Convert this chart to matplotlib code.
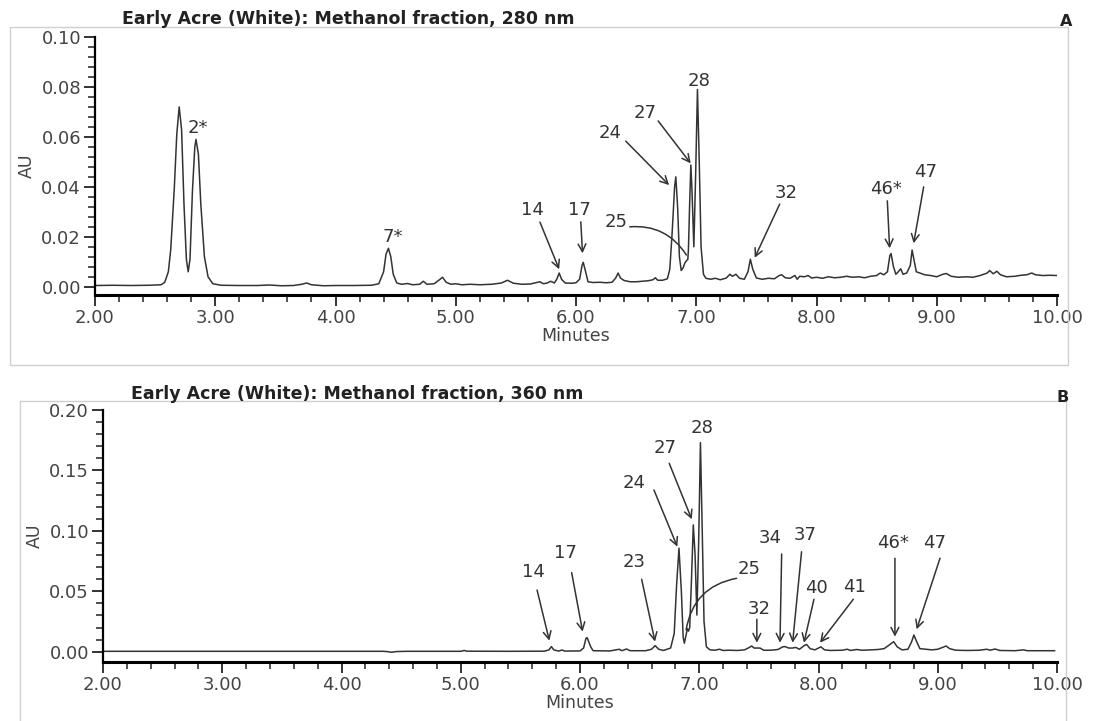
import matplotlib
matplotlib.use("Agg")
import matplotlib.pyplot as plt
from matplotlib.patches import Rectangle
from matplotlib.ticker import MultipleLocator, FormatStrFormatter

# 280 nm trace (minutes, AU)
top_t = [2.00, 2.15, 2.30, 2.45, 2.55, 2.58, 2.61, 2.63, 2.66, 2.68, 2.70, 2.72,
         2.74, 2.76, 2.775, 2.79, 2.81, 2.83, 2.84, 2.86, 2.88, 2.91, 2.94, 2.98,
         3.05, 3.20, 3.35, 3.45, 3.55, 3.65, 3.72, 3.76, 3.80, 3.90, 4.00, 4.15,
         4.30, 4.36, 4.40, 4.42, 4.44, 4.46, 4.48, 4.51, 4.55, 4.60, 4.64, 4.70,
         4.73, 4.76, 4.82, 4.87, 4.89, 4.92, 4.96, 5.00, 5.05, 5.12, 5.20, 5.30,
         5.38, 5.43, 5.48, 5.55, 5.62, 5.70, 5.73, 5.76, 5.79, 5.82, 5.84, 5.86,
         5.88, 5.91, 5.96, 6.00, 6.03, 6.05, 6.06, 6.08, 6.10, 6.14, 6.20, 6.25,
         6.30, 6.33, 6.35, 6.37, 6.40, 6.45, 6.50, 6.55, 6.60, 6.64, 6.66, 6.68,
         6.72, 6.76, 6.78, 6.80, 6.82, 6.83, 6.845, 6.86, 6.875, 6.89, 6.905, 6.92,
         6.93, 6.935, 6.945, 6.955, 6.965, 6.98, 6.995, 7.01, 7.025, 7.04, 7.06, 7.08,
         7.12, 7.16, 7.20, 7.25, 7.28, 7.30, 7.33, 7.36, 7.40, 7.43, 7.45, 7.47,
         7.50, 7.55, 7.60, 7.65, 7.69, 7.71, 7.74, 7.78, 7.82, 7.84, 7.86, 7.90,
         7.93, 7.96, 8.00, 8.05, 8.10, 8.15, 8.20, 8.25, 8.30, 8.35, 8.40, 8.45,
         8.50, 8.53, 8.56, 8.59, 8.61, 8.62, 8.64, 8.66, 8.68, 8.70, 8.72, 8.75,
         8.78, 8.795, 8.81, 8.83, 8.86, 8.90, 8.95, 9.00, 9.05, 9.08, 9.12, 9.18,
         9.25, 9.30, 9.36, 9.42, 9.44, 9.47, 9.50, 9.53, 9.58, 9.65, 9.70, 9.75,
         9.79, 9.82, 9.88, 9.94, 10.00]
top_au = [0.0005, 0.0006, 0.0005, 0.0006, 0.0008, 0.0018, 0.0060, 0.0150, 0.0400, 0.0610, 0.0720, 0.0630,
          0.0330, 0.0110, 0.0060, 0.0110, 0.0380, 0.0560, 0.0590, 0.0530, 0.0330, 0.0120, 0.0040, 0.0012,
          0.0006, 0.0005, 0.0005, 0.0007, 0.0004, 0.0005, 0.0010, 0.0015, 0.0008, 0.0004, 0.0005, 0.0005,
          0.0006, 0.0012, 0.0060, 0.0130, 0.0154, 0.0120, 0.0050, 0.0015, 0.0010, 0.0013, 0.0008, 0.0010,
          0.0022, 0.0010, 0.0012, 0.0030, 0.0038, 0.0018, 0.0010, 0.0012, 0.0008, 0.0010, 0.0008, 0.0010,
          0.0015, 0.0026, 0.0014, 0.0010, 0.0011, 0.0020, 0.0012, 0.0015, 0.0022, 0.0015, 0.0030, 0.0055,
          0.0030, 0.0015, 0.0014, 0.0016, 0.0030, 0.0085, 0.0098, 0.0060, 0.0020, 0.0017, 0.0018, 0.0016,
          0.0018, 0.0035, 0.0055, 0.0035, 0.0025, 0.0020, 0.0020, 0.0022, 0.0024, 0.0028, 0.0036, 0.0026,
          0.0026, 0.0032, 0.0070, 0.0220, 0.0400, 0.0440, 0.0320, 0.0120, 0.0065, 0.0075, 0.0095, 0.0105,
          0.0110, 0.0150, 0.0330, 0.0487, 0.0380, 0.0160, 0.0450, 0.0790, 0.0500, 0.0160, 0.0050, 0.0034,
          0.0030, 0.0034, 0.0028, 0.0035, 0.0050, 0.0042, 0.0050, 0.0034, 0.0030, 0.0060, 0.0110, 0.0070,
          0.0035, 0.0030, 0.0034, 0.0032, 0.0045, 0.0048, 0.0036, 0.0034, 0.0045, 0.0030, 0.0042, 0.0040,
          0.0045, 0.0035, 0.0038, 0.0034, 0.0040, 0.0036, 0.0038, 0.0042, 0.0038, 0.0040, 0.0036, 0.0042,
          0.0045, 0.0055, 0.0048, 0.0060, 0.0125, 0.0133, 0.0080, 0.0050, 0.0060, 0.0072, 0.0050, 0.0055,
          0.0085, 0.0147, 0.0110, 0.0060, 0.0055, 0.0048, 0.0045, 0.0040, 0.0050, 0.0053, 0.0042, 0.0038,
          0.0040, 0.0038, 0.0045, 0.0055, 0.0065, 0.0052, 0.0062, 0.0048, 0.0040, 0.0042, 0.0046, 0.0048,
          0.0055, 0.0048, 0.0045, 0.0046, 0.0045]

# 360 nm trace (minutes, AU)
bot_t = [2.00, 3.00, 4.00, 4.35, 4.38, 4.42, 4.46, 4.55, 5.00, 5.03, 5.05, 5.40,
         5.70, 5.74, 5.76, 5.78, 5.82, 5.85, 5.87, 6.00, 6.03, 6.05, 6.06, 6.09,
         6.11, 6.25, 6.33, 6.35, 6.39, 6.42, 6.55, 6.60, 6.63, 6.66, 6.70, 6.76,
         6.79, 6.81, 6.83, 6.85, 6.865, 6.875, 6.89, 6.90, 6.91, 6.92, 6.935, 6.95,
         6.965, 6.98, 6.995, 7.01, 7.025, 7.04, 7.06, 7.09, 7.13, 7.17, 7.20, 7.25,
         7.32, 7.38, 7.42, 7.44, 7.46, 7.49, 7.51, 7.54, 7.60, 7.66, 7.70, 7.72,
         7.75, 7.78, 7.81, 7.84, 7.88, 7.90, 7.93, 7.97, 8.00, 8.02, 8.05, 8.10,
         8.20, 8.24, 8.27, 8.32, 8.36, 8.42, 8.50, 8.55, 8.60, 8.63, 8.66, 8.70,
         8.75, 8.78, 8.80, 8.82, 8.85, 8.90, 8.95, 9.00, 9.04, 9.07, 9.10, 9.15,
         9.25, 9.35, 9.41, 9.44, 9.48, 9.52, 9.65, 9.72, 9.75, 9.85, 9.98]
bot_au = [0.0003, 0.0003, 0.0003, 0.0003, 0.0001, -0.0005, 0.0001, 0.0003, 0.0003, 0.0010, 0.0004, 0.0003,
          0.0004, 0.0015, 0.0042, 0.0015, 0.0005, 0.0014, 0.0005, 0.0006, 0.0030, 0.0110, 0.0116, 0.0040,
          0.0008, 0.0006, 0.0020, 0.0008, 0.0022, 0.0008, 0.0008, 0.0020, 0.0050, 0.0020, 0.0010, 0.0030,
          0.0150, 0.0550, 0.0856, 0.0500, 0.0120, 0.0070, 0.0140, 0.0190, 0.0170, 0.0200, 0.0600, 0.1049,
          0.0800, 0.0303, 0.0900, 0.1730, 0.1000, 0.0250, 0.0040, 0.0015, 0.0012, 0.0020, 0.0010, 0.0012,
          0.0010, 0.0015, 0.0035, 0.0047, 0.0030, 0.0030, 0.0030, 0.0012, 0.0012, 0.0018, 0.0040, 0.0042,
          0.0030, 0.0030, 0.0035, 0.0020, 0.0050, 0.0060, 0.0025, 0.0015, 0.0030, 0.0040, 0.0015, 0.0010,
          0.0012, 0.0020, 0.0010, 0.0018, 0.0012, 0.0014, 0.0018, 0.0025, 0.0060, 0.0083, 0.0040, 0.0015,
          0.0020, 0.0080, 0.0138, 0.0090, 0.0025, 0.0020, 0.0015, 0.0020, 0.0035, 0.0047, 0.0025, 0.0012,
          0.0010, 0.0012, 0.0020, 0.0012, 0.0022, 0.0010, 0.0008, 0.0015, 0.0008, 0.0008, 0.0008]

# peak labels: (label, text_t, text_au)
top_plain = [("2*", 2.856, 0.0635), ("7*", 4.475, 0.0200), ("28", 7.023, 0.0824)]
bot_plain = [("28", 7.021, 0.1849)]

# peak labels with arrows: (label, text_t, text_au, start_t, start_au, tip_t, tip_au)
top_arrows = [
    ("14", 5.641, 0.0307, 5.700, 0.0259, 5.860, 0.0070),
    ("17", 6.026, 0.0307, 6.040, 0.0260, 6.054, 0.0134),
    ("24", 6.287, 0.0614, 6.414, 0.0583, 6.774, 0.0407),
    ("27", 6.572, 0.0696, 6.683, 0.0664, 6.954, 0.0494),
    ("32", 7.750, 0.0376, 7.694, 0.0331, 7.486, 0.0116),
    ("46*", 8.575, 0.0390, 8.589, 0.0344, 8.608, 0.0154),
    ("47", 8.905, 0.0460, 8.891, 0.0400, 8.808, 0.0174),
]
bot_arrows = [
    ("14", 5.606, 0.0660, 5.640, 0.0510, 5.743, 0.0091),
    ("17", 5.874, 0.0819, 5.930, 0.0654, 6.022, 0.0166),
    ("23", 6.453, 0.0745, 6.517, 0.0599, 6.629, 0.0083),
    ("24", 6.453, 0.1393, 6.620, 0.1338, 6.816, 0.0869),
    ("27", 6.713, 0.1683, 6.748, 0.1559, 6.937, 0.1096),
    ("32", 7.501, 0.0353, 7.483, 0.0268, 7.483, 0.0074),
    ("34", 7.593, 0.0943, 7.691, 0.0808, 7.677, 0.0074),
    ("37", 7.887, 0.0966, 7.858, 0.0827, 7.783, 0.0074),
    ("40", 7.985, 0.0530, 7.962, 0.0434, 7.878, 0.0074),
    ("41", 8.298, 0.0538, 8.292, 0.0434, 8.013, 0.0074),
    ("46*", 8.625, 0.0899, 8.641, 0.0773, 8.641, 0.0124),
    ("47", 8.977, 0.0899, 9.019, 0.0773, 8.823, 0.0185),
]

# peak 25 uses a curved leader: (text_t, text_au, start_t, start_au, end_t, end_au, rad)
top_25 = (6.331, 0.0258, 6.447, 0.0240, 6.918, 0.0127, -0.3)
bot_25 = (7.420, 0.0682, 7.313, 0.0607, 6.890, 0.0180, 0.35)

W, H = 1097, 721
INK = "#333333"
plt.rcParams["font.family"] = ["DejaVu Sans"]

fig = plt.figure(figsize=(W / 100, H / 100), dpi=100)

# light grey boxes round each panel
fig.add_artist(Rectangle((10 / W, 1 - 365 / H), 1058 / W, 338 / H, transform=fig.transFigure,
                         fill=False, ec="#cfcfcf", lw=1))
fig.add_artist(Rectangle((20 / W, -0.01), 1046 / W, 1 - 401 / H + 0.01, transform=fig.transFigure,
                         fill=False, ec="#cfcfcf", lw=1))


def panel(rect, t, au, ylim, ymajor, yminor, plain, arrows, curve):
    ax = fig.add_axes(rect)
    ax.plot(t, au, color=INK, lw=1.1)
    ax.set_xlim(2, 10)
    ax.set_ylim(*ylim)
    for s in ("top", "right"):
        ax.spines[s].set_visible(False)
    ax.spines["left"].set_linewidth(1.6)
    ax.spines["bottom"].set_linewidth(2.2)
    ax.xaxis.set_major_locator(MultipleLocator(1))
    ax.xaxis.set_minor_locator(MultipleLocator(0.2))
    ax.yaxis.set_major_locator(MultipleLocator(ymajor))
    ax.yaxis.set_minor_locator(MultipleLocator(yminor))
    ax.xaxis.set_major_formatter(FormatStrFormatter("%.2f"))
    ax.yaxis.set_major_formatter(FormatStrFormatter("%.2f"))
    ax.tick_params(which="major", length=8, width=1.4, color=INK, labelcolor="#444444",
                   labelsize=13, pad=2)
    ax.tick_params(which="minor", length=5, width=1.2, color=INK)
    ax.set_xlabel("Minutes", fontsize=12.5, color="#444444", labelpad=0)
    ax.set_ylabel("AU", fontsize=12.5, color="#444444", labelpad=4)

    for lab, tx, ty in plain:
        ax.text(tx, ty, lab, ha="center", va="center", fontsize=13, color=INK)
    for lab, tx, ty, sx, sy, px, py in arrows:
        ax.text(tx, ty, lab, ha="center", va="center", fontsize=13, color=INK)
        ax.annotate("", xy=(px, py), xytext=(sx, sy),
                    arrowprops=dict(arrowstyle="->,head_length=0.55,head_width=0.28",
                                    color=INK, lw=1.1, shrinkA=0, shrinkB=0))
    tx, ty, sx, sy, ex, ey, rad = curve
    ax.text(tx, ty, "25", ha="center", va="center", fontsize=13, color=INK)
    ax.annotate("", xy=(ex, ey), xytext=(sx, sy),
                arrowprops=dict(arrowstyle="-", color=INK, lw=1.1, shrinkA=0, shrinkB=0,
                                connectionstyle=f"arc3,rad={rad}"))
    return ax


ax1 = panel([95 / W, 1 - 295 / H, 962 / W, 258 / H], top_t, top_au, (-0.0033, 0.10),
            0.02, 0.004, top_plain, top_arrows, top_25)
ax2 = panel([103 / W, 1 - 661.7 / H, 954 / W, 251.7 / H], bot_t, bot_au, (-0.0083, 0.20),
            0.05, 0.01, bot_plain, bot_arrows, bot_25)

fig.text(122 / W, 1 - 19 / H, "Early Acre (White): Methanol fraction, 280 nm",
         fontsize=12.5, fontweight="bold", color="#222222", va="center", ha="left")
fig.text(131 / W, 1 - 394 / H, "Early Acre (White): Methanol fraction, 360 nm",
         fontsize=12.5, fontweight="bold", color="#222222", va="center", ha="left")
fig.text(1066 / W, 1 - 22 / H, "A", fontsize=11.5, fontweight="bold", color="#222222",
         ha="center", va="center")
fig.text(1063 / W, 1 - 398 / H, "B", fontsize=11.5, fontweight="bold", color="#222222",
         ha="center", va="center")

fig.savefig("out.png", dpi=100, facecolor="white")
